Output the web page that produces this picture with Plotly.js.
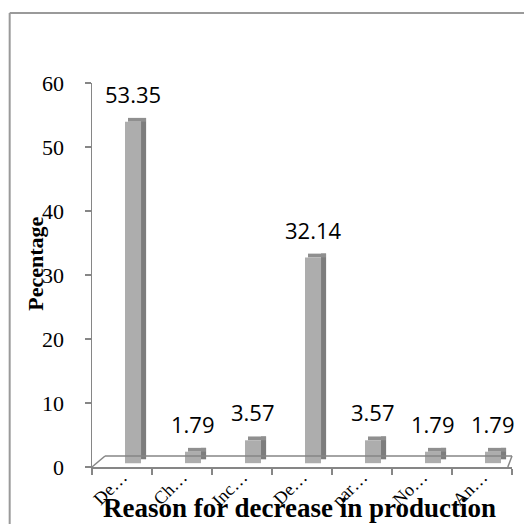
<!DOCTYPE html>
<html>
<head>
<meta charset="utf-8">
<script src="https://cdn.plot.ly/plotly-3.0.1.min.js"></script>
<style>html,body{margin:0;padding:0;background:#fff;}#chart{width:524px;height:524px;}</style>
</head>
<body>
<div id="chart"></div>
<script>
// Data
const categories = ["De…", "Ch…", "Inc…", "De…", "par…", "No…", "An…"];
const percentages = [53.35, 1.79, 3.57, 32.14, 3.57, 1.79, 1.79];
const valueLabels = ["53.35", "1.79", "3.57", "32.14", "3.57", "1.79", "1.79"];
const yTicks = [0, 10, 20, 30, 40, 50, 60];

const idx = categories.map((c, i) => i);
const depth = 0.6; // 3D depth lift (style)

const serif = "Liberation Serif, Times New Roman, serif";
const axisGray = "#868686";

const sideTrace = {
  type: "bar", x: idx, y: percentages, base: idx.map(() => 2 * depth),
  offset: 0.317, width: 0.085, marker: {color: "#7d7d7d"},
  hoverinfo: "skip", showlegend: false
};
const topTrace = {
  type: "bar", x: idx, y: idx.map(() => depth), base: percentages.map(v => v + depth),
  offset: 0.1, width: 0.3, marker: {color: "#8f8f8f"},
  hoverinfo: "skip", showlegend: false
};
const frontTrace = {
  type: "bar", x: idx, y: percentages, base: idx.map(() => depth),
  offset: 0.05, width: 0.267, marker: {color: "#adadad"},
  hoverinfo: "skip", showlegend: false
};

const labelAnns = percentages.map((v, i) => ({
  x: i, y: v + 2 * depth, xref: "x", yref: "y",
  text: valueLabels[i], showarrow: false,
  xanchor: "center", yanchor: "bottom", xshift: 11, yshift: 7,
  font: {family: "Open Sans, sans-serif", size: 22, color: "#000"}
}));

const layout = {
  width: 524, height: 524,
  margin: {l: 92, r: 12, t: 83, b: 57},
  paper_bgcolor: "#fff", plot_bgcolor: "rgba(0,0,0,0)",
  barmode: "overlay",
  showlegend: false,
  xaxis: {
    range: [-0.5, categories.length - 0.5],
    tickmode: "array", tickvals: idx, ticktext: categories,
    tickangle: -45, ticks: "",
    tickfont: {family: serif, size: 18, color: "#000"},
    ticklabelstandoff: -9,
    showline: true, linecolor: axisGray, linewidth: 1.5,
    showgrid: false, zeroline: false, fixedrange: true,
    minor: {tick0: -0.5, dtick: 1, ticks: "outside", ticklen: 6, tickcolor: axisGray, tickwidth: 1.5, showgrid: false}
  },
  yaxis: {
    range: [0, 60], tickmode: "array", tickvals: yTicks,
    ticks: "outside", ticklen: 6, tickcolor: axisGray, tickwidth: 1.5,
    tickfont: {family: serif, size: 22, color: "#000"},
    ticklabelstandoff: 16,
    showline: true, linecolor: axisGray, linewidth: 1.5,
    showgrid: false, zeroline: false, fixedrange: true
  },
  shapes: [
    // floor back edge
    {type: "line", xref: "paper", yref: "paper", x0: 0.031, y0: 0.0286, x1: 1.0, y1: 0.0286, line: {color: axisGray, width: 1.5}},
    // floor left diagonal
    {type: "line", xref: "paper", yref: "paper", x0: 0, y0: 0, x1: 0.031, y1: 0.0286, line: {color: axisGray, width: 1.5}},
    // floor right diagonal
    {type: "line", xref: "paper", yref: "paper", x0: 1.0, y0: 0.0286, x1: 0.99, y1: 0, line: {color: axisGray, width: 1.5}},
    // outer chart frame (left and top)
    {type: "line", xref: "paper", yref: "paper", x0: -0.196, y0: 1.182, x1: -0.196, y1: -0.3, line: {color: "#9a9a9a", width: 2}},
    {type: "line", xref: "paper", yref: "paper", x0: -0.196, y0: 1.182, x1: 1.2, y1: 1.182, line: {color: "#9a9a9a", width: 2}}
  ],
  annotations: labelAnns.concat([
    {xref: "paper", yref: "paper", x: -0.135, y: 0.53, text: "<b>Pecentage</b>", textangle: -90,
     showarrow: false, xanchor: "center", yanchor: "middle",
     font: {family: serif, size: 22, color: "#000"}},
    {xref: "paper", yref: "paper", x: 0.493, y: -0.108, text: "<b>Reason for decrease in production</b>",
     showarrow: false, xanchor: "center", yanchor: "middle",
     font: {family: serif, size: 27, color: "#000"}}
  ])
};

Plotly.newPlot("chart", [sideTrace, topTrace, frontTrace], layout, {displayModeBar: false, staticPlot: true});
</script>
</body>
</html>
